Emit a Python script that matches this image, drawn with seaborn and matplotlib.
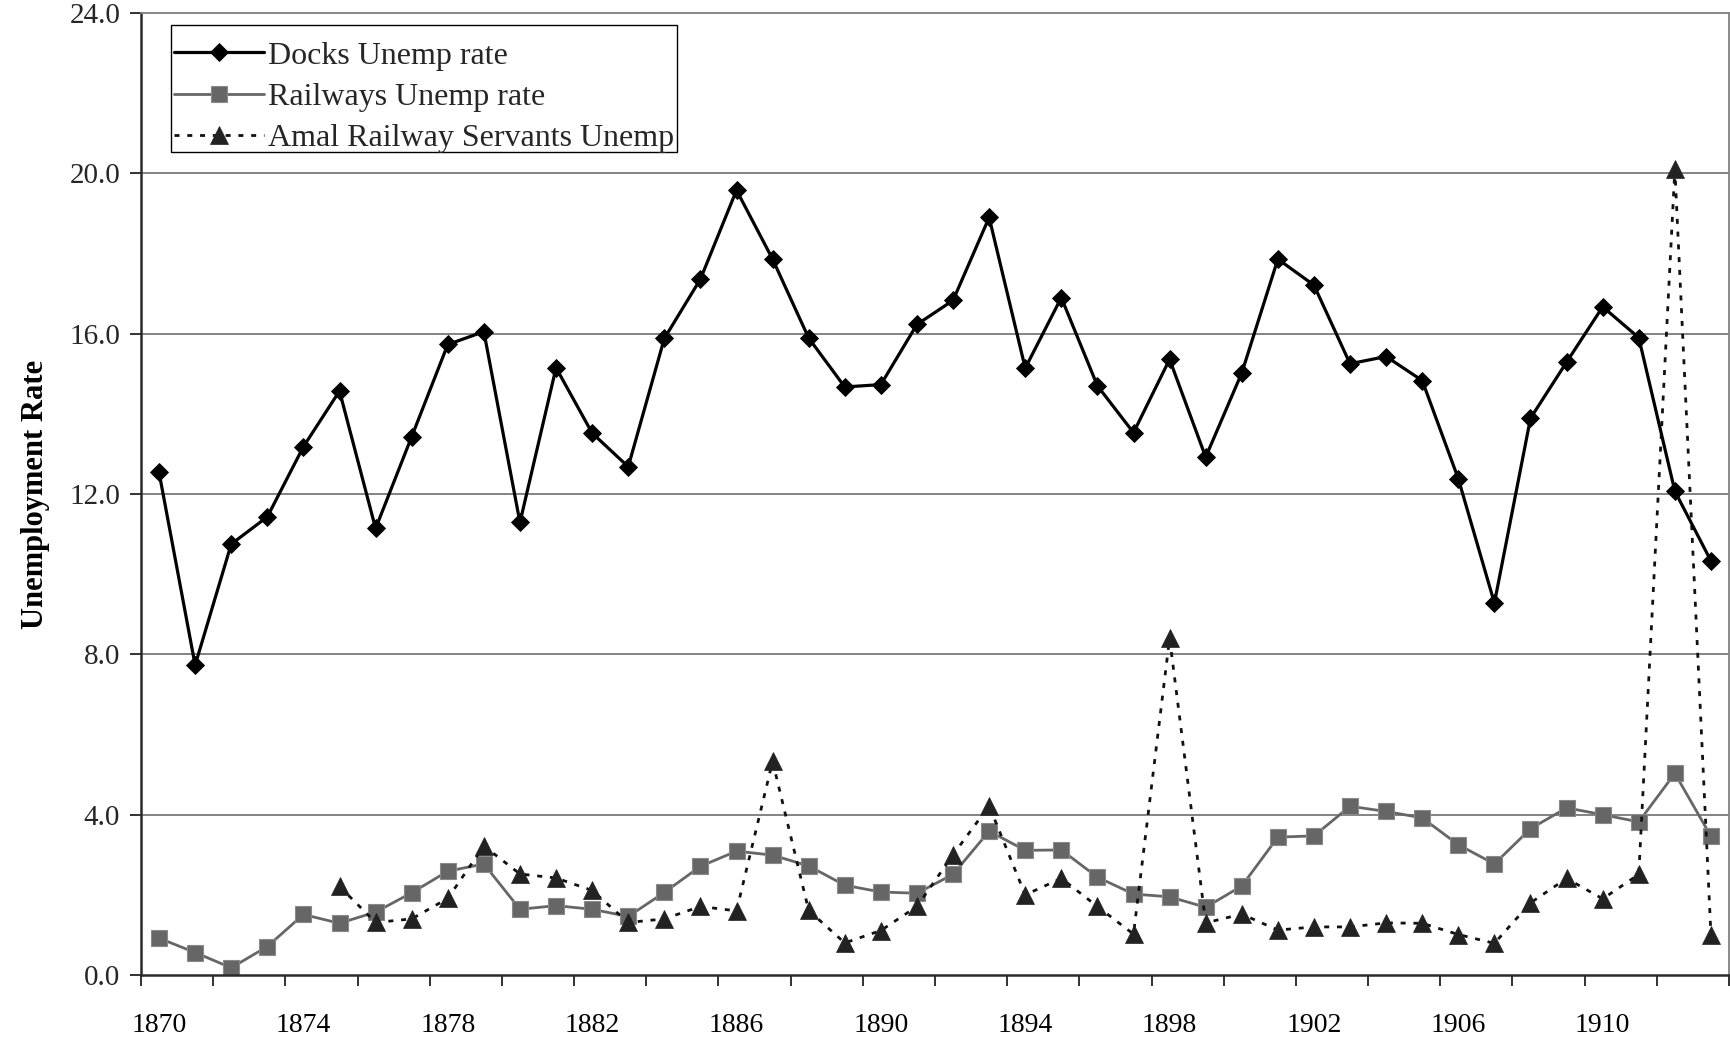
import numpy as np
import pandas as pd
import matplotlib
matplotlib.use("Agg")
import matplotlib.pyplot as plt
from matplotlib.patches import Rectangle
from matplotlib.ticker import FixedLocator, FormatStrFormatter
import seaborn as sns

# Annual unemployment rates, 1870-1913
years = list(range(1870, 1914))

docks_rate = [12.54, 7.73, 10.75, 11.43, 13.18, 14.57, 11.14, 13.43, 15.73, 16.05,
              11.29, 15.15, 13.52, 12.68, 15.88, 17.36, 19.58, 17.86, 15.89, 14.67,
              14.73, 16.23, 16.83, 18.90, 15.14, 16.90, 14.70, 13.53, 15.36, 12.92,
              15.02, 17.86, 17.21, 15.25, 15.43, 14.83, 12.38, 9.28, 13.89, 15.29,
              16.67, 15.90, 12.07, 10.33]

railways_rate = [0.92, 0.56, 0.18, 0.71, 1.51, 1.29, 1.57, 2.05, 2.59, 2.77,
                 1.64, 1.73, 1.64, 1.46, 2.06, 2.71, 3.09, 2.99, 2.72, 2.24,
                 2.07, 2.04, 2.51, 3.59, 3.11, 3.12, 2.44, 2.02, 1.95, 1.69,
                 2.22, 3.44, 3.47, 4.21, 4.08, 3.92, 3.25, 2.77, 3.65, 4.17,
                 4.00, 3.82, 5.03, 3.46]

amal_years = list(range(1875, 1914))
amal_rate = [2.21, 1.31, 1.40, 1.91, 3.22, 2.52, 2.42, 2.11, 1.31, 1.40,
             1.71, 1.60, 5.33, 1.61, 0.80, 1.11, 1.71, 3.00, 4.22, 2.00,
             2.41, 1.71, 1.02, 8.40, 1.30, 1.52, 1.12, 1.20, 1.20, 1.30,
             1.29, 1.01, 0.79, 1.80, 2.41, 1.90, 2.51, 20.10, 1.00]

labels = ["Docks Unemp rate", "Railways Unemp rate", "Amal Railway Servants Unemp"]
y_ticks = [0, 4, 8, 12, 16, 20, 24]
x_label_years = [1870, 1874, 1878, 1882, 1886, 1890, 1894, 1898, 1902, 1906, 1910]

docks_df = pd.DataFrame({"year": years, "rate": docks_rate})
rail_df = pd.DataFrame({"year": years, "rate": railways_rate})
amal_df = pd.DataFrame({"year": amal_years, "rate": amal_rate})

sns.set_theme(style="white")
plt.rcParams["font.family"] = ["Liberation Serif", "DejaVu Serif"]

W, H = 1731, 1043
fig = plt.figure(figsize=(W / 100, H / 100), dpi=100)
left, right, top, bottom = 141, 1729, 13, 975
ax = fig.add_axes([left / W, 1 - bottom / H, (right - left) / W, (bottom - top) / H])

# horizontal gridlines behind the series
for v in y_ticks[1:-1]:
    ax.axhline(v, color="#7a7a7a", lw=1.3, zorder=0)

sns.lineplot(data=docks_df, x="year", y="rate", ax=ax, color="#000000",
             linewidth=2.3, marker="D", markersize=9.5, markeredgecolor="#000000",
             markeredgewidth=0.6, label=labels[0], zorder=3)
sns.lineplot(data=rail_df, x="year", y="rate", ax=ax, color="#666666",
             linewidth=2.0, marker="s", markersize=11, markerfacecolor="#666666",
             markeredgecolor="#8a8a8a", markeredgewidth=0.8, label=labels[1], zorder=2)
sns.lineplot(data=amal_df, x="year", y="rate", ax=ax, color="#111111",
             linewidth=2.0, linestyle=(0, (1.8, 2.8)), marker="^", markersize=12.5,
             markerfacecolor="#222222", markeredgecolor="#222222",
             markeredgewidth=0.5, label=labels[2], zorder=2.5)

ax.set_xlim(years[0] - 0.5, years[-1] + 0.5)
ax.set_ylim(0, 24)

# year labels centred on categories, tick marks on every second boundary
ax.xaxis.set_major_locator(FixedLocator(x_label_years))
ax.set_xticklabels([str(y) for y in x_label_years])
ax.xaxis.set_minor_locator(FixedLocator(np.arange(years[0] - 0.5, years[-1] + 1, 2)))
ax.tick_params(axis="x", which="major", length=0, pad=27, labelsize=20, colors="#000000")
ax.tick_params(axis="x", which="minor", length=8, width=1.3, color="#222222", direction="out")
ax.tick_params(axis="x", which="both", bottom=True)

ax.set_yticks(y_ticks)
ax.yaxis.set_major_formatter(FormatStrFormatter("%.1f"))
ax.tick_params(axis="y", which="major", length=8, width=1.3, color="#222222",
               direction="out", pad=7, labelsize=21, left=True)

ax.set_xlabel("")
ax.set_ylabel("Unemployment Rate", fontsize=22, fontweight="bold", color="#000000")
ax.yaxis.set_label_coords((50 - left) / (right - left), 0.5)

for side in ["left", "bottom"]:
    ax.spines[side].set_color("#2a2a2a")
    ax.spines[side].set_linewidth(1.8)
for side in ["top", "right"]:
    ax.spines[side].set_color("#808080")
    ax.spines[side].set_linewidth(1.3)

# legend entries, with a plain rectangular frame drawn around them
leg = ax.legend(loc="upper left",
                bbox_to_anchor=((171 - left) / (right - left), (bottom - 38) / (bottom - top)),
                borderaxespad=0, fontsize=23, handlelength=2.8, handletextpad=0.15,
                borderpad=0.1, labelspacing=0.37, frameon=False)
box = Rectangle(((171 - left) / (right - left), (bottom - 152) / (bottom - top)),
                (677 - 171) / (right - left), (152 - 25) / (bottom - top),
                transform=ax.transAxes, facecolor="white", edgecolor="#000000",
                linewidth=1.0, zorder=4)
ax.add_patch(box)
leg.set_zorder(5)

fig.savefig("out.png", dpi=100, facecolor="white")
